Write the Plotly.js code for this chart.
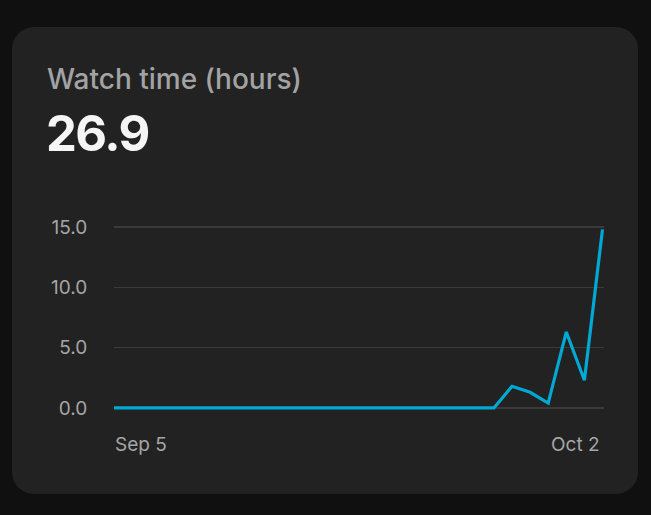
<!DOCTYPE html>
<html>
<head>
<meta charset="utf-8">
<script src="https://cdn.plot.ly/plotly-3.0.1.min.js"></script>
<style>
  html, body { margin: 0; padding: 0; width: 651px; height: 515px; background: #101010; overflow: hidden; font-family: Inter, "Noto Sans", sans-serif; }
  #card { position: absolute; left: 12px; top: 27px; width: 626px; height: 467px; background: #222222; border-radius: 22px; }
  #title { position: absolute; left: 47px; top: 65px; font-size: 28px; line-height: 28px; color: #a3a3a3; font-weight: 500; white-space: nowrap; }
  #value { position: absolute; left: 46px; top: 109px; font-size: 49px; line-height: 49px; color: #f5f5f5; font-weight: 700; white-space: nowrap; letter-spacing: -1.5px; }
  #chart { position: absolute; left: 0; top: 0; width: 651px; height: 515px; }
</style>
</head>
<body>
<div id="card"></div>
<div id="title">Watch time (hours)</div>
<div id="value">26.9</div>
<div id="chart"></div>
<script>
const chartTitle = "Watch time (hours)";
const totalLabel = "26.9";
const dates = [
  "2024-09-05","2024-09-06","2024-09-07","2024-09-08","2024-09-09","2024-09-10","2024-09-11",
  "2024-09-12","2024-09-13","2024-09-14","2024-09-15","2024-09-16","2024-09-17","2024-09-18",
  "2024-09-19","2024-09-20","2024-09-21","2024-09-22","2024-09-23","2024-09-24","2024-09-25",
  "2024-09-26","2024-09-27","2024-09-28","2024-09-29","2024-09-30","2024-10-01","2024-10-02"
];
const hours = [
  0, 0, 0, 0, 0, 0, 0,
  0, 0, 0, 0, 0, 0, 0,
  0, 0, 0, 0, 0, 0, 0,
  0, 1.8, 1.3, 0.4, 6.3, 2.3, 14.8
];
const yTickVals = [0, 5, 10, 15];
const yTickText = ["0.0", "5.0", "10.0", "15.0"];
const xLabels = ["Sep 5", "Oct 2"];
const xRangeEnd = "2024-10-02 02:00";

const tickFont = { family: "Inter, 'Noto Sans', sans-serif", size: 19, color: "#a6a6a6" };

const trace = {
  x: dates, y: hours, type: "scatter", mode: "lines",
  line: { color: "#00a8d4", width: 3.2, shape: "linear" },
  hoverinfo: "skip"
};

const layout = {
  width: 651, height: 515,
  margin: { l: 114, r: 47, t: 221, b: 101 },
  paper_bgcolor: "rgba(0,0,0,0)",
  plot_bgcolor: "rgba(0,0,0,0)",
  showlegend: false,
  xaxis: {
    type: "date",
    range: [dates[0], xRangeEnd],
    showgrid: false, zeroline: false, showline: false,
    showticklabels: false, ticks: ""
  },
  yaxis: {
    range: [-0.5, 15.5],
    tickvals: yTickVals, ticktext: yTickText,
    showgrid: true, gridcolor: "#3a3a3a", gridwidth: 1.5,
    zeroline: false, showline: false,
    ticks: "outside", ticklen: 22, tickcolor: "rgba(0,0,0,0)",
    tickfont: tickFont
  },
  annotations: [
    { x: dates[0], xref: "x", y: 0, yref: "paper", xanchor: "left", yanchor: "top",
      yshift: -17, xshift: -1, text: xLabels[0], showarrow: false, font: tickFont },
    { x: dates[dates.length - 1], xref: "x", y: 0, yref: "paper", xanchor: "right", yanchor: "top",
      yshift: -17, xshift: 0, text: xLabels[1], showarrow: false, font: tickFont }
  ]
};

document.getElementById("title").textContent = chartTitle;
document.getElementById("value").textContent = totalLabel;
Plotly.newPlot("chart", [trace], layout, { displayModeBar: false, staticPlot: true });
</script>
</body>
</html>
